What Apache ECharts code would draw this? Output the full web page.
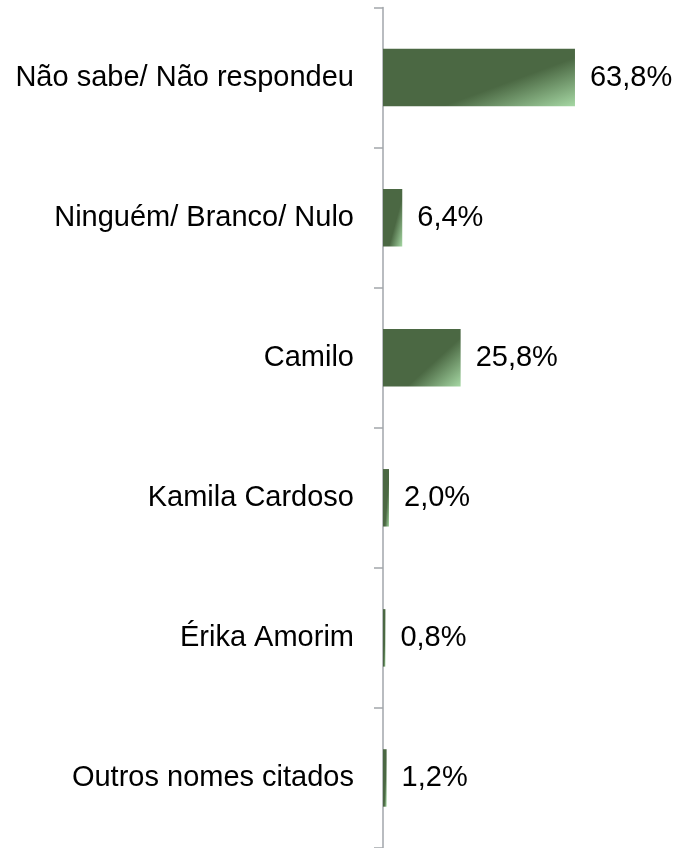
<!DOCTYPE html>
<html>
<head>
<meta charset="utf-8">
<script src="https://cdn.jsdelivr.net/npm/echarts@6/dist/echarts.min.js"></script>
<style>
html,body{margin:0;padding:0;background:#fff;}
#chart{width:677px;height:848px;}
</style>
</head>
<body>
<div id="chart"></div>
<script>
const categories = ['Não sabe/ Não respondeu', 'Ninguém/ Branco/ Nulo', 'Camilo', 'Kamila Cardoso', 'Érika Amorim', 'Outros nomes citados'];
const values = [63.8, 6.4, 25.8, 2.0, 0.8, 1.2];

const GRID_LEFT = 383, GRID_TOP = 7.5, GRID_H = 843.6, X_MAX = 70, PX_PER_UNIT = 3.009;
const BAR_H = 57.5;
const DARK = '#4b6843', LIGHT = '#a6d8a4';

function makeGrad(v) {
  const w = Math.max(v * PX_PER_UNIT, 0.5), h = BAR_H;
  const nx = 0.85 * h, ny = 0.69 * w;
  const n2 = nx * nx + ny * ny;
  const t = 1.54 * w * h / n2;
  const ex = t * nx, ey = t * ny;
  return new echarts.graphic.LinearGradient(0, 0, ex / w, ey / h, [
    { offset: 0, color: DARK },
    { offset: 0.62, color: DARK },
    { offset: 1, color: LIGHT }
  ]);
}

const chart = echarts.init(document.getElementById('chart'), null, { renderer: 'canvas' });
chart.setOption({
  animation: false,
  backgroundColor: '#ffffff',
  grid: { left: GRID_LEFT, top: GRID_TOP, width: X_MAX * PX_PER_UNIT, height: GRID_H, containLabel: false },
  xAxis: { type: 'value', min: 0, max: X_MAX, show: false, splitLine: { show: false } },
  yAxis: {
    type: 'category',
    data: categories,
    inverse: true,
    boundaryGap: true,
    axisLine: { show: true, lineStyle: { color: '#a2a6ab', width: 1.5 } },
    axisTick: { show: true, length: 9, inside: false, lineStyle: { color: '#a2a6ab', width: 1.5 } },
    axisLabel: { margin: 29, color: '#000', fontSize: 29, fontFamily: '"Liberation Sans", Arial, sans-serif' },
    splitLine: { show: false }
  },
  series: [{
    type: 'bar',
    barWidth: BAR_H,
    data: values.map(v => ({ value: v, itemStyle: { color: makeGrad(v) } })),
    label: {
      show: true,
      position: 'right',
      distance: 15,
      color: '#000',
      fontSize: 29,
      fontFamily: '"Liberation Sans", Arial, sans-serif',
      formatter: p => p.value.toFixed(1).replace('.', ',') + '%'
    }
  }]
});
</script>
</body>
</html>
